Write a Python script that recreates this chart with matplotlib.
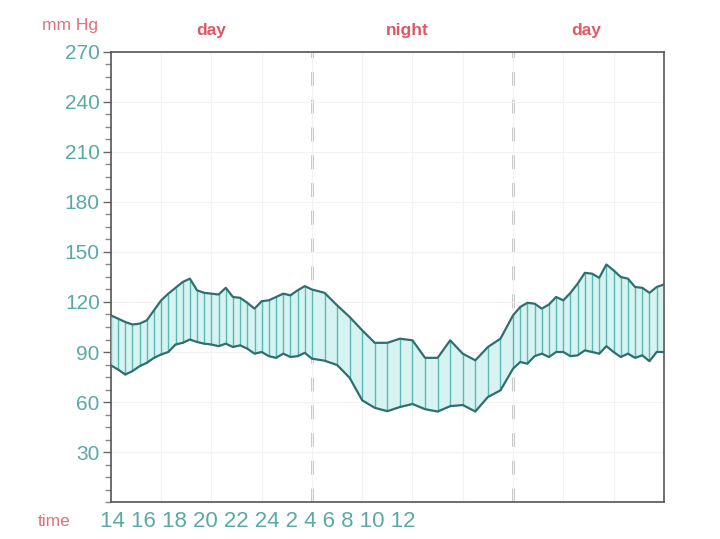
import matplotlib
matplotlib.use("Agg")
import matplotlib.pyplot as plt
import numpy as np
from matplotlib.ticker import MultipleLocator

plt.rcParams['font.family'] = ['Liberation Sans', 'DejaVu Sans']

# sample positions in grid units (1 unit = one light grid column)
day1_t = np.arange(0, 29) / 7
night_t = 4 + np.arange(1, 17) / 4
day2_t = 8 + np.arange(1, 22) / 7

systolic_day1 = [112, 110, 108, 106.5, 107, 109, 115, 121, 125, 128.5, 132, 134, 127,
                 125.5, 125, 124.5, 128.5, 123, 122.5, 119.5, 116, 120.5, 121, 123,
                 125, 124, 127, 129.5, 127.5]
diastolic_day1 = [82, 79.5, 76.5, 78.5, 81.5, 83.5, 86.5, 88.5, 90, 94.5, 95.5, 97.5, 96,
                  95, 94.5, 93.5, 95, 93, 94, 92, 89, 90, 87.5, 86.5, 89, 87, 87.5,
                  89.5, 86]
systolic_night = [125.5, 118, 111, 103, 95.5, 95.5, 98, 97, 86.5, 86.5, 97, 89, 85, 93,
                  98, 112]
diastolic_night = [84.8, 82.2, 74.5, 61, 56.5, 54.5, 57, 58.8, 55.7, 54.3, 57.5, 58.2,
                   54.3, 63, 67, 80]
systolic_day2 = [117, 119.5, 119, 116, 118.5, 123, 121, 125.5, 131, 137.5, 137, 134.5,
                 142.5, 139, 135, 134, 129, 128.5, 125.5, 129, 130.5]
diastolic_day2 = [84, 83, 87.5, 89, 87, 90, 90, 87.5, 88, 91, 90, 89, 93.5, 90, 87, 89,
                  86.5, 88, 84.5, 90, 90]

time_labels = ['14', '16', '18', '20', '22', '24', '2', '4', '6', '8', '10', '12']
period_labels = ['day', 'night', 'day']
period_centers = [2, 5.9, 9.45]

t = np.concatenate([day1_t, night_t, day2_t])
sys_bp = np.array(systolic_day1 + systolic_night + systolic_day2)
dia_bp = np.array(diastolic_day1 + diastolic_night + diastolic_day2)

red = '#e05862'
teal_txt = '#5aa9a6'

fig = plt.figure(figsize=(7.2, 5.39), dpi=100)
ax = fig.add_axes([0.154, 0.0686, 0.768, 0.835])

ax.fill_between(t, dia_bp, sys_bp, color='#d6f3f1', lw=0, zorder=2)
ax.vlines(t, dia_bp, sys_bp, color='#5bbab6', lw=1.0, zorder=3)
ax.plot(t, sys_bp, color='#2f6f6d', lw=1.6, zorder=4)
ax.plot(t, dia_bp, color='#2f6f6d', lw=1.6, zorder=4)

for xv in [4, 8]:
    ax.axvline(xv, color='#c2c2c2', lw=2, dashes=(5, 5), zorder=1)

ax.set_xlim(0, 11)
ax.set_ylim(0, 270)
ax.set_yticks(np.arange(30, 271, 30))
ax.yaxis.set_minor_locator(MultipleLocator(7.5))
ax.set_xticks(np.arange(1, 11))
ax.tick_params(axis='x', length=0, labelbottom=False)
ax.tick_params(axis='y', which='major', length=6, width=1, color='#666666',
               labelsize=15, labelcolor=teal_txt, pad=2)
ax.tick_params(axis='y', which='minor', length=4, width=1, color='#888888')
ax.grid(True, color='#f2f2f2', lw=0.8, zorder=0)
for sp in ax.spines.values():
    sp.set_color('#555555')
    sp.set_linewidth(1.2)

for lab, xc in zip(period_labels, period_centers):
    ax.text(xc, 1.047, lab, transform=ax.get_xaxis_transform(), ha='center',
            va='center', color=red, fontsize=12.5, fontweight='bold')

fig.text(0.097, 0.953, 'mm Hg', color='#e0707a', fontsize=12.5, ha='center', va='center')
fig.text(0.075, 0.033, 'time', color='#e0707a', fontsize=12.5, ha='center', va='center')
fig.text(0.139, 0.033, ' '.join(time_labels), color=teal_txt, fontsize=16,
         ha='left', va='center')

fig.savefig('out.png', dpi=100)
